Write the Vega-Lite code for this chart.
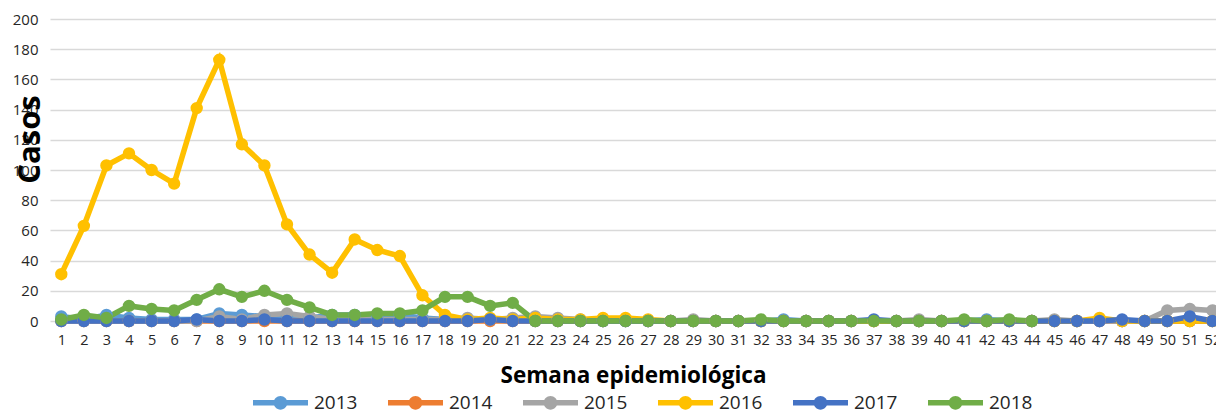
{
  "$schema": "https://vega.github.io/schema/vega-lite/v6.json",
  "autosize": "none",
  "width": 1166,
  "height": 302,
  "padding": {"left": 50, "top": 19, "right": 0, "bottom": 92},
  "background": "white",
  "config": {"view": {"stroke": null}, "font": "Open Sans"},
  "data": {"values": [
    {"w":1,"2013":3,"2014":0,"2015":0,"2016":31,"2017":0,"2018":1},
    {"w":2,"2013":1,"2014":0,"2015":0,"2016":63,"2017":0,"2018":4},
    {"w":3,"2013":4,"2014":0,"2015":0,"2016":103,"2017":0,"2018":2},
    {"w":4,"2013":2,"2014":0,"2015":0,"2016":111,"2017":0,"2018":10},
    {"w":5,"2013":1,"2014":0,"2015":0,"2016":100,"2017":0,"2018":8},
    {"w":6,"2013":1,"2014":0,"2015":0,"2016":91,"2017":0,"2018":7},
    {"w":7,"2013":1,"2014":0,"2015":0,"2016":141,"2017":1,"2018":14},
    {"w":8,"2013":5,"2014":0,"2015":3,"2016":173,"2017":0,"2018":21},
    {"w":9,"2013":4,"2014":0,"2015":1,"2016":117,"2017":0,"2018":16},
    {"w":10,"2013":3,"2014":0,"2015":4,"2016":103,"2017":1,"2018":20},
    {"w":11,"2013":3,"2014":0,"2015":5,"2016":64,"2017":0,"2018":14},
    {"w":12,"2013":2,"2014":0,"2015":3,"2016":44,"2017":0,"2018":9},
    {"w":13,"2013":4,"2014":0,"2015":1,"2016":32,"2017":0,"2018":4},
    {"w":14,"2013":4,"2014":0,"2015":1,"2016":54,"2017":0,"2018":4},
    {"w":15,"2013":2,"2014":0,"2015":1,"2016":47,"2017":0,"2018":5},
    {"w":16,"2013":4,"2014":0,"2015":1,"2016":43,"2017":0,"2018":5},
    {"w":17,"2013":2,"2014":0,"2015":1,"2016":17,"2017":0,"2018":7},
    {"w":18,"2013":1,"2014":0,"2015":1,"2016":4,"2017":0,"2018":16},
    {"w":19,"2013":1,"2014":0,"2015":2,"2016":1,"2017":0,"2018":16},
    {"w":20,"2013":1,"2014":0,"2015":1,"2016":2,"2017":1,"2018":10},
    {"w":21,"2013":1,"2014":0,"2015":2,"2016":1,"2017":0,"2018":12},
    {"w":22,"2013":1,"2014":0,"2015":3,"2016":2,"2017":0,"2018":0},
    {"w":23,"2013":1,"2014":0,"2015":2,"2016":1,"2017":0,"2018":0},
    {"w":24,"2013":0,"2014":0,"2015":1,"2016":1,"2017":0,"2018":0},
    {"w":25,"2013":0,"2014":0,"2015":0,"2016":2,"2017":0,"2018":0},
    {"w":26,"2013":0,"2014":0,"2015":0,"2016":2,"2017":0,"2018":0},
    {"w":27,"2013":0,"2014":0,"2015":0,"2016":1,"2017":0,"2018":0},
    {"w":28,"2013":0,"2014":0,"2015":0,"2016":0,"2017":0,"2018":0},
    {"w":29,"2013":0,"2014":0,"2015":1,"2016":0,"2017":0,"2018":0},
    {"w":30,"2013":0,"2014":0,"2015":0,"2016":0,"2017":0,"2018":0},
    {"w":31,"2013":0,"2014":0,"2015":0,"2016":0,"2017":0,"2018":0},
    {"w":32,"2013":0,"2014":0,"2015":0,"2016":0,"2017":0,"2018":1},
    {"w":33,"2013":1,"2014":0,"2015":0,"2016":0,"2017":0,"2018":0},
    {"w":34,"2013":0,"2014":0,"2015":0,"2016":0,"2017":0,"2018":0},
    {"w":35,"2013":0,"2014":0,"2015":0,"2016":0,"2017":0,"2018":0},
    {"w":36,"2013":0,"2014":0,"2015":0,"2016":0,"2017":0,"2018":0},
    {"w":37,"2013":0,"2014":0,"2015":0,"2016":0,"2017":1,"2018":0},
    {"w":38,"2013":0,"2014":0,"2015":0,"2016":0,"2017":0,"2018":0},
    {"w":39,"2013":0,"2014":0,"2015":1,"2016":0,"2017":0,"2018":0},
    {"w":40,"2013":0,"2014":0,"2015":0,"2016":0,"2017":0,"2018":0},
    {"w":41,"2013":0,"2014":0,"2015":0,"2016":0,"2017":0,"2018":1},
    {"w":42,"2013":1,"2014":0,"2015":0,"2016":0,"2017":0,"2018":0},
    {"w":43,"2013":0,"2014":0,"2015":0,"2016":0,"2017":0,"2018":1},
    {"w":44,"2013":0,"2014":0,"2015":0,"2016":0,"2017":0,"2018":0},
    {"w":45,"2013":0,"2014":0,"2015":1,"2016":0,"2017":0},
    {"w":46,"2013":0,"2014":0,"2015":0,"2016":0,"2017":0},
    {"w":47,"2013":0,"2014":0,"2015":0,"2016":2,"2017":0},
    {"w":48,"2013":0,"2014":0,"2015":0,"2016":0,"2017":1},
    {"w":49,"2013":0,"2014":0,"2015":0,"2016":0,"2017":0},
    {"w":50,"2013":0,"2014":0,"2015":7,"2016":0,"2017":0},
    {"w":51,"2013":0,"2014":0,"2015":8,"2016":0,"2017":3},
    {"w":52,"2013":0,"2014":0,"2015":7,"2016":0,"2017":0}
  ]},
  "transform": [
    {"fold": ["2013","2014","2015","2016","2017","2018"], "as": ["year","cases"]},
    {"filter": "isValid(datum.cases)"}
  ],
  "encoding": {
    "x": {
      "field": "w", "type": "quantitative",
      "scale": {"domain": [0.5, 52.16], "nice": false, "zero": false},
      "axis": {
        "values": [1,2,3,4,5,6,7,8,9,10,11,12,13,14,15,16,17,18,19,20,21,22,23,24,25,26,27,28,29,30,31,32,33,34,35,36,37,38,39,40,41,42,43,44,45,46,47,48,49,50,51,52],
        "format": "d", "grid": false, "domain": false, "ticks": false,
        "labelOverlap": false, "labelFlush": false, "labelFontSize": 14.5, "labelColor": "#262626",
        "labelPadding": 12,
        "title": "Semana epidemiológica", "titleFontSize": 22.5, "titleFontWeight": "bold",
        "titleColor": "#000000", "titleBaseline": "middle", "titleY": 54
      }
    },
    "y": {
      "field": "cases", "type": "quantitative",
      "scale": {"domain": [0, 200], "nice": false},
      "axis": {
        "values": [0,20,40,60,80,100,120,140,160,180,200],
        "grid": true, "gridColor": "#D9D9D9", "gridWidth": 1.5,
        "domain": false, "ticks": false, "labelPadding": 12,
        "labelFontSize": 15, "labelColor": "#262626",
        "title": "Casos", "titleFontSize": 31, "titleFontWeight": "bold", "titleColor": "#000000",
        "titleAngle": -90, "titleAlign": "center", "titleBaseline": "middle",
        "titleX": -20, "titleY": 120
      }
    },
    "color": {
      "field": "year", "type": "nominal",
      "scale": {"domain": ["2013","2014","2015","2016","2017","2018"],
                "range": ["#5B9BD5","#ED7D31","#A5A5A5","#FFC000","#4472C4","#70AD47"]},
      "legend": {
        "orient": "none", "legendX": 203, "legendY": 356, "direction": "horizontal", "columns": 6,
        "title": null, "columnPadding": 30,
        "symbolType": "M-1,-0.1H1V0.1H-1Z M0.25,0A0.25,0.25 0 1,1 -0.25,0A0.25,0.25 0 1,1 0.25,0Z",
        "symbolSize": 3025, "symbolStrokeWidth": 0, "labelFontSize": 19, "labelColor": "#262626",
        "labelOffset": 6,
        "encode": {"symbols": {"update": {"fill": {"scale": "color", "field": "value"}, "stroke": {"value": "transparent"}, "opacity": {"value": 1}}}}
      }
    },
    "order": {"field": "w", "type": "quantitative"}
  },
  "layer": [
    {"mark": {"type": "line", "strokeWidth": 5.5, "clip": false}},
    {"mark": {"type": "point", "filled": true, "size": 154, "opacity": 1, "clip": false}}
  ]
}
